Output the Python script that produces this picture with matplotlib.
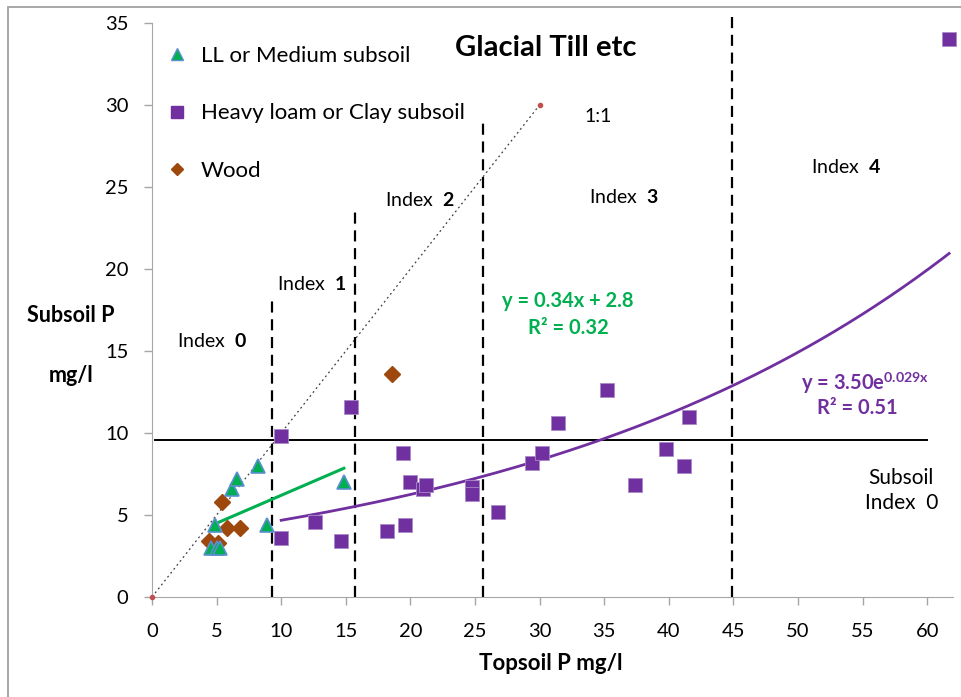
import numpy as np
import matplotlib
matplotlib.use("Agg")
import matplotlib.pyplot as plt
from matplotlib.patches import Rectangle
from matplotlib.lines import Line2D

plt.rcParams.update({"font.family": "Lato", "mathtext.fontset": "custom",
                     "mathtext.rm": "Lato", "mathtext.bf": "Lato:bold",
                     "mathtext.it": "Lato:italic"})

# topsoil / subsoil P (mg/l) by subsoil texture
ll_x = [4.6, 5.0, 5.3, 4.85, 6.2, 6.6, 8.2, 8.9, 14.85]
ll_y = [3.0, 3.0, 3.0, 4.4, 6.6, 7.2, 8.0, 4.4, 7.0]

clay_x = [10.0, 10.0, 12.6, 14.6, 15.4, 18.2, 19.4, 19.6, 20.0, 21.0, 21.2,
          24.8, 24.8, 26.8, 29.4, 30.2, 31.4, 35.2, 37.4, 39.8, 41.2, 41.6, 61.7]
clay_y = [9.8, 3.6, 4.6, 3.4, 11.6, 4.0, 8.8, 4.4, 7.0, 6.6, 6.8,
          6.7, 6.3, 5.2, 8.2, 8.8, 10.6, 12.6, 6.8, 9.0, 8.0, 11.0, 34.0]

wood_x = [4.4, 5.1, 5.4, 5.8, 6.8, 18.6]
wood_y = [3.4, 3.3, 5.8, 4.2, 4.2, 13.6]

# trendlines
lin_slope, lin_icpt, lin_r2 = 0.34, 2.8, 0.32
exp_a, exp_b, exp_r2 = 3.50, 0.029, 0.51

# index boundaries (topsoil P) and the height each boundary line reaches
idx_bounds = [9.3, 15.7, 25.6, 44.9]
idx_tops = [18.1, 23.5, 29.2, 35.4]
subsoil_idx0 = 9.55

GREEN, PURPLE, BROWN = "#00B050", "#7030A0", "#9E480E"

fig = plt.figure(figsize=(9.62, 6.97), dpi=100)
ax = fig.add_axes([152/962, 100/697, 801/962, 574/697])
ax.set_xlim(0, 62)
ax.set_ylim(0, 35)

# 1:1 line
ax.plot([0, 30], [0, 30], ls=(0, (1.5, 2.5)), color="#404040", lw=0.9, zorder=2)
ax.plot([0, 30], [0, 30], ls="none", marker="o", ms=3, color="#C0504D",
        zorder=3, clip_on=False)

# index boundaries
for xb, yt in zip(idx_bounds, idx_tops):
    ax.plot([xb, xb], [0, yt], color="black", lw=1.6, ls=(0, (5, 3)),
            zorder=2, clip_on=False)
ax.plot([0.2, 60], [subsoil_idx0, subsoil_idx0], color="black", lw=1.4, zorder=2)

# trendlines over each group's data range
xl = np.linspace(min(ll_x[3:]), max(ll_x), 50)
ax.plot(xl, lin_slope * xl + lin_icpt, color=GREEN, lw=2.2, zorder=3)
xe = np.linspace(min(clay_x), max(clay_x), 200)
ax.plot(xe, exp_a * np.exp(exp_b * xe), color=PURPLE, lw=2.0, zorder=3)

ax.plot(ll_x, ll_y, ls="none", marker="^", ms=10.5, mfc=GREEN, mec="#5B8FD0",
        mew=1.2, zorder=5)
ax.plot(clay_x, clay_y, ls="none", marker="s", ms=9.5, mfc=PURPLE,
        mec="#A98BC8", mew=0.6, zorder=5, clip_on=False)
ax.plot(wood_x, wood_y, ls="none", marker="D", ms=8, mfc=BROWN, mec=BROWN,
        zorder=4)

# axes styling
for s in ("top", "right"):
    ax.spines[s].set_visible(False)
for s in ("left", "bottom"):
    ax.spines[s].set_color("#A6A6A6")
ax.set_xticks(np.arange(0, 61, 5))
ax.set_yticks(np.arange(0, 36, 5))
ax.tick_params(axis="both", colors="#A6A6A6", labelcolor="black",
               length=6, width=1, labelsize=14.5)
ax.tick_params(axis="x", pad=13)
ax.tick_params(axis="y", pad=11)

# legend
handles = [
    Line2D([], [], ls="none", marker="^", ms=9, mfc=GREEN, mec="#5B8FD0"),
    Line2D([], [], ls="none", marker="s", ms=8, mfc=PURPLE, mec=PURPLE),
    Line2D([], [], ls="none", marker="D", ms=6.5, mfc=BROWN, mec=BROWN),
]
ax.legend(handles, ["LL or Medium subsoil", "Heavy loam or Clay subsoil", "Wood"],
          loc="upper left", bbox_to_anchor=(0.003, 0.98), frameon=False,
          fontsize=16, handlelength=1.0, handletextpad=0.6, labelspacing=1.7,
          borderpad=0)

# annotations
ax.text(30.5, 33.5, "Glacial Till etc", fontsize=21, fontweight="bold",
        ha="center", va="center")
ax.text(34.5, 29.3, "1:1", fontsize=14, ha="center", va="center")
idx_pos = [(1.9, 15.6, "0"), (9.7, 19.1, "1"), (18.0, 24.2, "2"),
           (33.8, 24.4, "3"), (51.0, 26.2, "4")]
for x, y, n in idx_pos:
    ax.text(x, y, "Index  $\\mathbf{%s}$" % n, fontsize=14, ha="left", va="center")

ax.text(32.2, 18.05, f"y = {lin_slope:.2f}x + {lin_icpt:.1f}", color=GREEN,
        fontsize=14.5, fontweight="bold", ha="center", va="center")
ax.text(32.2, 16.4, f"R² = {lin_r2:.2f}", color=GREEN,
        fontsize=14.5, fontweight="bold", ha="center", va="center")
ax.text(55.2, 13.05, f"y = {exp_a:.2f}e" + "$^{\\mathbf{%.3fx}}$" % exp_b,
        color=PURPLE, fontsize=14.5, fontweight="bold", ha="center", va="center")
ax.text(54.6, 11.5, f"R² = {exp_r2:.2f}", color=PURPLE,
        fontsize=14.5, fontweight="bold", ha="center", va="center")
ax.text(58.0, 7.26, "Subsoil", fontsize=15, ha="center", va="center")
ax.text(58.0, 5.73, "Index  0", fontsize=15, ha="center", va="center")

# axis titles
fig.text(71/962, 1 - 315/697, "Subsoil P", fontsize=15.5, fontweight="bold",
         ha="center", va="center")
fig.text(71/962, 1 - 376/697, "mg/l", fontsize=15.5, fontweight="bold",
         ha="center", va="center")
fig.text(551/962, 1 - 663/697, "Topsoil P mg/l", fontsize=16, fontweight="bold",
         ha="center", va="center")

# chart border
fig.patches.append(Rectangle((8/962, -0.1), 2, 1.1 - 7/697, fill=False,
                             ec="#A0A0A0", lw=1.3, transform=fig.transFigure))

fig.savefig("out.png", dpi=100)
